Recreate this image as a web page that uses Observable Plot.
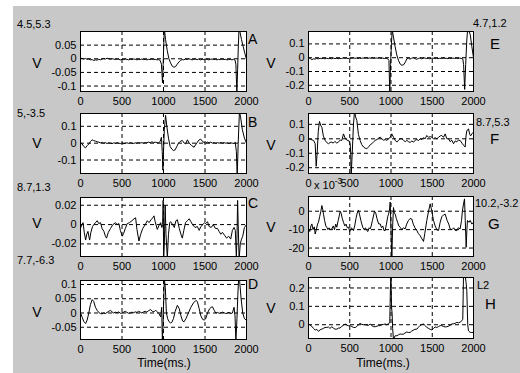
<!DOCTYPE html>
<html><head><meta charset="utf-8">
<script src="https://cdn.jsdelivr.net/npm/d3@7"></script>
<script src="https://cdn.jsdelivr.net/npm/@observablehq/plot@0.6"></script>
<style>
body{margin:0;background:#fff;}
#fig{position:relative;width:520px;height:373px;overflow:hidden;font-family:"Liberation Sans",Arial,sans-serif;}
#bg{position:absolute;left:13px;top:6px;right:0;bottom:0;background:#c8c8c8;}
.t{position:absolute;white-space:nowrap;line-height:1;color:#000;}
.t sup{font-size:0.75em;position:relative;top:-0.2em;vertical-align:top;}
</style></head><body><div id="fig"><div id="bg"></div></div>
<script>
// ---- data (time in ms, value in V; G in units of 1e-3 V) ----
const xTicks = [0, 500, 1000, 1500, 2000];

const seriesA = [[0,0.002],[20,0.001],[40,-0.001],[60,0.001],[80,-0.002],[100,-0.001],[120,-0.004],[140,-0.003],[160,-0.006],[180,-0.004],[200,-0.005],[220,-0.002],[240,-0.004],[260,-0.001],[280,0.001],[300,-0.001],[320,0.002],[340,0.000],[360,-0.002],[380,0.000],[400,-0.001],[420,-0.003],[440,-0.001],[460,-0.002],[480,-0.004],[500,-0.002],[520,-0.003],[540,-0.001],[560,-0.002],[580,-0.004],[600,-0.002],[620,-0.003],[640,-0.001],[660,-0.002],[680,-0.004],[700,-0.002],[720,-0.003],[740,-0.001],[760,-0.003],[780,-0.002],[800,-0.004],[820,-0.002],[840,-0.003],[860,-0.001],[880,-0.003],[900,-0.002],[920,-0.004],[940,-0.003],[960,-0.006],[975,-0.02],[988,-0.088],[996,-0.02],[1004,0.06],[1010,0.11],[1025,0.07],[1045,0.03],[1065,0.0],[1085,-0.015],[1105,-0.027],[1125,-0.031],[1145,-0.029],[1165,-0.02],[1185,-0.012],[1205,-0.006],[1225,-0.003],[1245,-0.004],[1265,-0.001],[1285,-0.003],[1305,0.000],[1325,-0.002],[1345,-0.004],[1365,-0.002],[1385,-0.001],[1405,-0.003],[1425,-0.001],[1445,-0.004],[1465,-0.002],[1485,-0.003],[1505,-0.001],[1525,-0.002],[1545,-0.004],[1565,-0.002],[1585,-0.001],[1605,-0.003],[1625,-0.002],[1645,-0.004],[1665,-0.002],[1685,-0.003],[1705,-0.001],[1725,-0.003],[1745,-0.002],[1765,-0.004],[1785,-0.003],[1805,-0.002],[1825,-0.004],[1845,-0.002],[1862,-0.005],[1872,-0.02],[1884,-0.125],[1893,-0.04],[1902,0.05],[1910,0.11],[1920,0.1],[1940,0.07],[1960,0.045],[1980,0.02],[2000,-0.003]];

const seriesB = [[0,0.0],[20,-0.005],[40,-0.02],[60,-0.028],[80,-0.015],[100,-0.005],[120,0.01],[140,0.02],[160,0.015],[180,0.012],[200,0.008],[220,0.006],[240,0.002],[260,0.004],[280,0.0],[300,0.003],[320,-0.002],[340,0.002],[360,0.0],[380,-0.003],[400,0.002],[420,-0.001],[440,0.003],[460,0.0],[480,-0.002],[500,0.001],[520,-0.003],[540,0.0],[560,0.002],[580,-0.001],[600,0.003],[620,0.0],[640,-0.002],[660,0.002],[680,0.0],[700,0.004],[720,0.001],[740,0.003],[760,0.0],[780,0.004],[800,0.002],[820,0.006],[840,0.003],[860,0.008],[880,0.004],[900,0.006],[920,0.003],[940,0.002],[960,0.01],[975,0.035],[985,-0.05],[992,-0.16],[1000,-0.05],[1010,0.08],[1025,0.165],[1040,0.1],[1060,0.03],[1080,-0.02],[1100,-0.035],[1120,-0.044],[1140,-0.04],[1160,-0.02],[1180,0.0],[1200,0.01],[1227,0.016],[1250,0.0],[1267,-0.004],[1288,0.02],[1310,0.0],[1340,-0.015],[1368,-0.024],[1400,0.0],[1430,0.02],[1448,0.024],[1470,0.01],[1490,0.004],[1509,0.0],[1530,0.006],[1550,0.002],[1570,0.006],[1590,0.0],[1610,0.004],[1630,-0.001],[1650,0.003],[1670,0.0],[1690,0.004],[1710,0.001],[1730,0.003],[1750,0.0],[1770,0.002],[1790,-0.002],[1810,0.002],[1830,0.0],[1850,-0.002],[1865,0.005],[1878,-0.05],[1888,-0.2],[1900,0.0],[1915,0.19],[1930,0.15],[1950,0.08],[1975,0.03],[2000,0.0]];

const seriesC = [[0,-0.004],[15,0.0],[31,0.002],[45,-0.008],[62,-0.016],[75,-0.01],[90,-0.007],[100,-0.012],[110,-0.016],[125,-0.008],[145,-0.002],[161,0.0],[180,0.002],[201,0.004],[220,0.001],[241,0.002],[260,-0.004],[282,-0.007],[300,-0.012],[314,-0.014],[335,-0.008],[362,-0.004],[390,0.0],[422,0.002],[440,0.0],[463,0.001],[480,-0.006],[503,-0.012],[520,-0.009],[540,-0.004],[563,0.001],[590,0.002],[620,0.004],[645,0.006],[664,0.007],[680,-0.005],[704,-0.017],[725,-0.01],[750,-0.004],[780,0.0],[805,0.004],[825,0.002],[850,0.005],[870,0.007],[885,0.009],[900,0.003],[925,-0.005],[945,-0.001],[966,0.002],[980,-0.003],[990,0.0],[996,0.025],[1002,-0.035],[1010,-0.02],[1020,0.02],[1030,-0.01],[1046,-0.035],[1060,-0.01],[1075,0.002],[1086,0.003],[1110,0.0],[1130,-0.003],[1150,0.004],[1167,0.005],[1190,-0.004],[1210,-0.01],[1227,-0.014],[1245,-0.006],[1265,0.002],[1288,0.004],[1310,0.006],[1330,0.003],[1350,0.0],[1380,-0.003],[1408,-0.002],[1430,-0.006],[1450,-0.002],[1475,0.0],[1495,0.002],[1509,0.001],[1530,0.003],[1550,-0.002],[1575,-0.003],[1600,0.0],[1625,-0.004],[1649,-0.004],[1670,-0.007],[1690,-0.01],[1710,-0.008],[1735,-0.011],[1760,-0.014],[1785,-0.012],[1810,-0.015],[1830,-0.006],[1850,-0.003],[1865,-0.006],[1878,-0.034],[1886,-0.01],[1893,0.025],[1900,0.0],[1911,-0.036],[1925,-0.02],[1940,-0.015],[1955,-0.012],[1975,-0.003],[2000,0.0]];

const seriesD = [[0,0.0],[20,-0.015],[40,-0.03],[62,-0.037],[80,-0.025],[100,0.0],[120,0.03],[141,0.047],[160,0.04],[180,0.02],[201,0.009],[220,0.002],[240,-0.002],[261,-0.003],[280,0.0],[300,-0.002],[320,0.002],[340,0.006],[362,0.009],[380,0.004],[400,0.0],[420,0.003],[440,0.001],[460,0.004],[480,-0.001],[500,0.0],[520,0.003],[540,0.006],[560,0.002],[580,-0.001],[600,0.0],[620,0.003],[640,0.001],[660,0.004],[680,0.002],[700,0.006],[720,0.003],[740,0.0],[760,0.004],[780,0.006],[800,0.003],[820,0.008],[845,0.012],[865,0.006],[885,0.004],[905,0.01],[925,0.004],[945,-0.002],[966,-0.014],[978,0.02],[986,-0.095],[994,-0.05],[1002,0.04],[1010,0.12],[1022,0.09],[1035,0.0],[1050,-0.02],[1065,-0.03],[1085,-0.035],[1100,-0.033],[1120,-0.02],[1140,0.005],[1167,0.027],[1190,0.015],[1210,-0.01],[1230,-0.028],[1247,-0.031],[1270,-0.02],[1300,0.0],[1330,0.02],[1360,0.035],[1390,0.044],[1408,0.04],[1430,0.015],[1450,-0.01],[1470,-0.022],[1490,-0.025],[1509,-0.02],[1530,0.0],[1555,0.015],[1575,0.02],[1590,0.022],[1610,0.01],[1630,0.0],[1650,0.002],[1670,-0.001],[1690,0.0],[1710,0.003],[1730,0.001],[1750,-0.002],[1770,0.0],[1790,0.002],[1810,-0.002],[1830,0.0],[1850,0.02],[1862,-0.01],[1872,-0.1],[1885,-0.02],[1895,0.06],[1905,0.12],[1918,0.11],[1935,0.05],[1955,0.0],[1975,-0.02],[2000,-0.025]];

const seriesE = [[0,0.0],[20,-0.005],[41,-0.014],[60,-0.008],[80,-0.01],[100,-0.006],[120,-0.008],[140,-0.004],[160,-0.007],[180,-0.005],[200,-0.008],[220,-0.004],[240,-0.007],[260,-0.005],[280,-0.008],[300,-0.003],[320,-0.006],[340,-0.004],[360,-0.007],[380,-0.005],[400,-0.006],[420,-0.002],[440,-0.005],[460,-0.003],[480,-0.006],[500,-0.004],[520,-0.005],[540,-0.002],[560,-0.004],[580,-0.003],[600,-0.006],[620,-0.003],[640,-0.005],[660,-0.002],[680,-0.004],[700,-0.003],[720,-0.005],[740,-0.002],[760,-0.004],[780,-0.003],[800,-0.005],[820,-0.002],[840,-0.004],[860,-0.003],[880,-0.005],[900,-0.003],[920,-0.006],[940,-0.004],[960,-0.008],[975,-0.02],[985,-0.26],[995,-0.05],[1005,0.1],[1015,0.2],[1030,0.15],[1050,0.08],[1070,0.02],[1091,-0.02],[1110,-0.045],[1132,-0.055],[1155,-0.05],[1175,-0.03],[1192,-0.008],[1210,-0.004],[1230,-0.01],[1250,-0.004],[1270,0.0],[1290,-0.006],[1310,-0.012],[1330,-0.006],[1350,-0.002],[1370,-0.008],[1390,-0.004],[1410,-0.002],[1430,-0.006],[1450,-0.004],[1470,-0.008],[1490,-0.005],[1510,-0.003],[1530,-0.006],[1550,-0.004],[1570,-0.007],[1590,-0.004],[1610,-0.006],[1630,-0.003],[1650,-0.005],[1670,-0.004],[1690,-0.007],[1710,-0.004],[1730,-0.006],[1750,-0.003],[1770,-0.005],[1790,-0.004],[1810,-0.006],[1830,-0.003],[1850,-0.005],[1870,-0.008],[1880,-0.05],[1893,-0.23],[1905,-0.05],[1918,0.12],[1928,0.2],[1945,0.19],[1960,0.17],[1980,0.08],[2000,0.0]];

const seriesF = [[0,0.0],[30,-0.005],[61,-0.011],[81,-0.034],[93,-0.19],[105,-0.1],[118,0.05],[133,0.12],[150,0.09],[162,0.08],[180,0.02],[202,-0.011],[220,-0.025],[242,-0.034],[262,-0.025],[283,-0.023],[300,-0.03],[320,-0.018],[343,-0.03],[365,-0.02],[385,-0.01],[404,-0.011],[424,0.034],[444,0.005],[465,-0.01],[485,-0.011],[505,-0.034],[512,-0.1],[517,-0.26],[530,-0.1],[545,0.1],[558,0.19],[572,0.15],[586,0.126],[605,0.03],[626,-0.011],[645,-0.04],[667,-0.057],[687,-0.065],[707,-0.069],[730,-0.055],[750,-0.04],[768,-0.034],[790,-0.02],[808,-0.011],[830,-0.005],[850,0.005],[869,0.011],[890,0.0],[910,-0.01],[930,-0.005],[949,-0.011],[970,0.0],[990,0.01],[1010,0.034],[1030,0.011],[1050,-0.01],[1071,-0.023],[1090,-0.01],[1110,0.0],[1131,0.0],[1150,-0.01],[1172,-0.02],[1192,-0.011],[1212,-0.02],[1232,-0.025],[1252,-0.015],[1273,-0.023],[1293,-0.01],[1313,-0.005],[1334,-0.012],[1354,0.0],[1374,-0.005],[1394,0.008],[1414,0.0],[1434,0.023],[1455,0.01],[1475,0.015],[1495,0.011],[1515,0.0],[1535,0.008],[1556,0.0],[1576,0.01],[1596,0.02],[1616,0.023],[1636,0.01],[1657,0.034],[1677,0.0],[1697,0.0],[1717,-0.02],[1737,-0.01],[1758,-0.034],[1778,-0.015],[1798,-0.02],[1818,-0.01],[1838,-0.011],[1860,-0.03],[1880,-0.045],[1899,-0.057],[1910,0.02],[1919,0.057],[1930,0.06],[1939,0.069],[1955,0.03],[1965,0.02],[1980,0.034],[1990,0.04],[2000,0.046]];

const seriesG = [[0,-9.6],[15,-11],[30,-8],[41,-6.9],[55,-10],[70,-8.5],[81,-12.4],[95,-10],[110,-7],[121,-6],[135,-3],[150,0],[162,3.1],[172,1],[182,-1.6],[195,-5],[210,-8],[222,-8.7],[235,-10],[250,-9],[265,-10],[283,-9.6],[300,-8],[315,-10],[330,-7],[343,-8.7],[360,-5],[375,-2],[384,0],[395,-1],[410,-4],[424,-6],[440,-8],[455,-7],[470,-9],[485,-8.7],[500,-11],[520,-9],[545,-10.5],[560,-8],[575,-4],[590,-1],[606,0.5],[620,-2],[635,-5],[646,-6.9],[660,-9],[675,-10],[690,-9],[707,-10.5],[720,-11],[735,-9],[747,-9.6],[760,-8],[775,-5],[790,-2],[800,0],[815,-1],[830,-4],[850,-6.9],[869,-6.9],[885,-9],[900,-8],[915,-10.5],[929,-10.5],[945,-7],[960,-3],[970,-1.6],[980,0],[990,5],[1000,-10],[1010,-26],[1020,-8],[1030,2],[1040,-1],[1051,-1.6],[1065,-4],[1080,-6],[1095,-8],[1111,-8.7],[1130,-10],[1150,-9],[1172,-9.6],[1190,-7],[1212,-5],[1230,-4],[1252,-4.2],[1270,-7],[1290,-9],[1313,-10.5],[1330,-12],[1354,-13.3],[1375,-15],[1394,-16.4],[1410,-12],[1434,-5],[1455,0],[1475,4],[1495,0],[1515,-5],[1535,-8],[1556,-10],[1576,-10.5],[1596,-6],[1616,-3],[1637,-2],[1657,-1.6],[1680,-5],[1700,-7],[1717,-9.6],[1740,-10],[1760,-9],[1780,-10.5],[1798,-10.5],[1815,-9],[1838,-9.6],[1855,-5],[1865,0],[1879,4],[1891,6.7],[1900,-5],[1911,-19.6],[1920,-10],[1927,-5],[1945,-6],[1960,-5],[1980,-7],[2000,-6]];

const seriesH = [[0,0.004],[20,-0.002],[41,-0.009],[60,-0.02],[81,-0.029],[100,-0.025],[121,-0.036],[140,-0.028],[162,-0.024],[180,-0.02],[200,-0.015],[222,-0.015],[240,-0.012],[260,-0.02],[283,-0.011],[300,-0.018],[320,-0.024],[343,-0.024],[365,-0.018],[384,-0.018],[400,-0.01],[420,-0.004],[444,0.004],[465,-0.002],[485,-0.006],[505,-0.005],[525,-0.01],[545,-0.015],[566,-0.015],[585,-0.01],[605,0.0],[626,0.007],[645,0.002],[665,0.0],[687,0.0],[705,-0.002],[725,-0.004],[747,0.004],[765,-0.004],[785,-0.01],[808,-0.011],[830,-0.008],[850,-0.005],[869,-0.005],[890,0.0],[910,0.002],[929,0.004],[950,0.0],[970,0.007],[985,0.01],[993,0.2],[1000,0.27],[1006,0.1],[1014,0.058],[1020,-0.02],[1030,-0.08],[1050,-0.06],[1071,-0.06],[1090,-0.055],[1110,-0.05],[1130,-0.052],[1151,-0.051],[1170,-0.045],[1190,-0.04],[1210,-0.042],[1232,-0.042],[1250,-0.035],[1270,-0.03],[1290,-0.025],[1313,-0.024],[1330,-0.015],[1350,-0.005],[1370,0.0],[1394,0.004],[1415,-0.005],[1434,-0.015],[1455,-0.02],[1475,-0.025],[1495,-0.029],[1515,-0.02],[1535,-0.012],[1556,-0.015],[1576,-0.01],[1596,-0.005],[1616,-0.005],[1637,-0.01],[1657,-0.012],[1677,-0.011],[1697,-0.008],[1717,-0.003],[1737,0.004],[1757,0.005],[1778,0.008],[1798,0.013],[1818,0.01],[1840,0.015],[1859,0.022],[1870,0.03],[1879,0.27],[1899,0.27],[1910,0.23],[1919,0.185],[1930,0.0],[1939,-0.033],[1960,-0.042],[1980,-0.042],[2000,-0.042]];

const yTicksA = [-0.1, -0.05, 0, 0.05];
const yTicksB = [-0.1, 0, 0.1];
const yTicksC = [-0.02, 0, 0.02];
const yTicksD = [-0.05, 0, 0.05, 0.1];
const yTicksE = [-0.2, -0.1, 0, 0.1];
const yTicksF = [-0.2, -0.1, 0, 0.1];
const yTicksG = [-20, -10, 0];
const yTicksH = [0, 0.1, 0.2];

const yDomainA = [-0.12, 0.1];
const yDomainB = [-0.18, 0.176];
const yDomainC = [-0.033, 0.028];
const yDomainD = [-0.093, 0.114];
const yDomainE = [-0.245, 0.19];
const yDomainF = [-0.24, 0.175];
const yDomainG = [-24.6, 8];
const yDomainH = [-0.075, 0.257];

const panelNames = ["A","B","C","D","E","F","G","H"];
const cornerLabels = ["4.5,5.3","5,-3.5","8.7,1.3","7.7,-6.3","4.7,1.2","8.7,5.3","10.2,-3.2","L2"];
const yAxisLabel = "V";
const xAxisLabel = "Time(ms.)";

// ---- layout ----
const fig = document.getElementById("fig");
const panels = [
  {data: seriesA, dom: yDomainA, ticks: yTicksA, box: [80, 31, 166, 60]},
  {data: seriesB, dom: yDomainB, ticks: yTicksB, box: [80, 113, 166, 60]},
  {data: seriesC, dom: yDomainC, ticks: yTicksC, box: [80, 196.5, 166, 59]},
  {data: seriesD, dom: yDomainD, ticks: yTicksD, box: [80, 279.5, 166, 59]},
  {data: seriesE, dom: yDomainE, ticks: yTicksE, box: [308, 31, 165, 60]},
  {data: seriesF, dom: yDomainF, ticks: yTicksF, box: [308, 113, 165, 60]},
  {data: seriesG, dom: yDomainG, ticks: yTicksG, box: [308, 196, 165, 60]},
  {data: seriesH, dom: yDomainH, ticks: yTicksH, box: [308, 277, 165, 61]}
];
const ML = 34, MR = 4, MT = 4, MB = 20;
const fmt = d => String(d);
const font = '"Liberation Sans", Arial, sans-serif';
const dash = {stroke: "black", strokeOpacity: 1, strokeWidth: 1, strokeDasharray: "4,3"};

panels.forEach(p => {
  const [bx, by, bw, bh] = p.box;
  const svg = Plot.plot({
    width: bw + ML + MR, height: bh + MT + MB,
    marginLeft: ML, marginRight: MR, marginTop: MT, marginBottom: MB,
    style: {background: "transparent", fontFamily: font, fontSize: "11px", color: "black", overflow: "visible"},
    x: {domain: [0, 2000]},
    y: {domain: p.dom},
    marks: [
      Plot.frame({fill: "white", stroke: null}),
      Plot.gridX(xTicks.slice(1, -1), dash),
      Plot.gridY(p.ticks, dash),
      Plot.line(p.data, {x: d => d[0], y: d => d[1], stroke: "black", strokeWidth: 1, clip: true}),
      Plot.frame({stroke: "black", strokeWidth: 1}),
      Plot.axisX(xTicks, {tickSize: 0, tickPadding: 6, tickFormat: fmt, label: null, fontSize: 11}),
      Plot.axisY(p.ticks, {tickSize: 0, tickPadding: 4, tickFormat: fmt, label: null, fontSize: 11})
    ]
  });
  svg.style.position = "absolute";
  svg.style.left = (bx - ML) + "px";
  svg.style.top = (by - MT) + "px";
  fig.appendChild(svg);
});

function label(html, x, y, size, center) {
  const d = document.createElement("div");
  d.className = "t";
  d.innerHTML = html;
  d.style.left = x + "px";
  d.style.top = y + "px";
  d.style.fontSize = size + "px";
  d.style.transform = center ? "translate(-50%,-50%)" : "translate(0,-50%)";
  fig.appendChild(d);
}
// corner labels
[[17,24],[17,113],[17,187],[17,260],[473,23],[476,122],[475,203],[477,285]]
  .forEach(([x,y],i) => label(cornerLabels[i], x, y, 11, false));
// panel letters
[[248,39,14],[248,122,14],[248,203,14],[248,284,14],[490,43,15],[490,138,15],[488,223,15],[485,303,15]]
  .forEach(([x,y,s],i) => label(panelNames[i], x, y, s, false));
// V labels
[[37,63],[37,143],[37,223],[37,312],[271,63],[271,145],[271,227],[271,308]]
  .forEach(([x,y]) => label(yAxisLabel, x, y, 14, true));
// x labels
label(xAxisLabel, 164, 363, 12, true);
label(xAxisLabel, 383, 363, 12, true);
// exponent for panel G
label("x 10<sup>-3</sup>", 314, 185, 11, false);
</script></body></html>
